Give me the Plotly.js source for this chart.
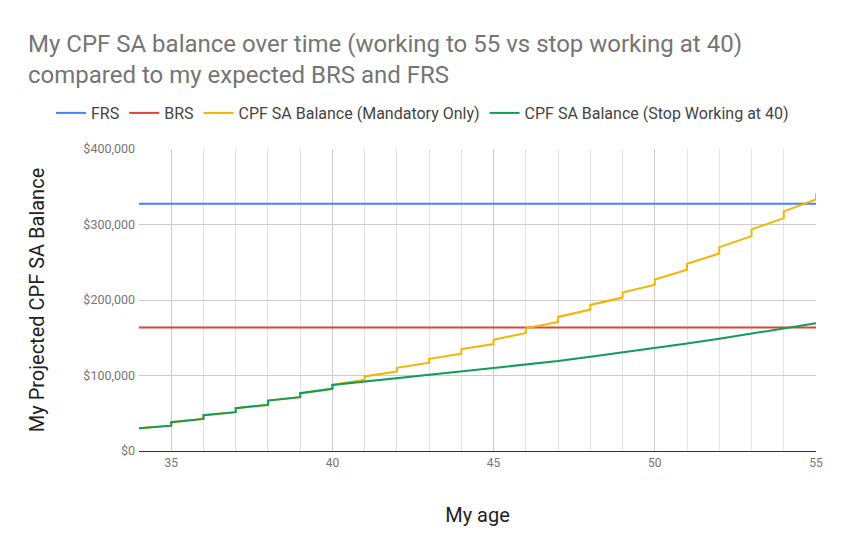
<!DOCTYPE html>
<html>
<head>
<meta charset="utf-8">
<script src="https://cdn.plot.ly/plotly-3.0.1.min.js"></script>
<style>
  html, body { margin: 0; padding: 0; background: #fff; }
  #chart { width: 844px; height: 554px; }
</style>
</head>
<body>
<div id="chart"></div>
<script>
// Values (in dollars, ages in years).
const frs_value = 327600;
const brs_value = 163700;

const start_age = 34;
const start_balance = 30100;

// Yearly interest gets credited at each birthday, so the balance steps up.
const step_ages = [35, 36, 37, 38, 39, 40, 41, 42, 43, 44, 45, 46, 47, 48, 49, 50, 51, 52, 53, 54, 55];
const mandatory_before = [33600, 42500, 51400, 61100, 71300, 82300, 94300, 105300, 116900, 128800,
    141700, 156300, 170900, 187300, 203200, 220100, 240000, 261600, 284600, 308500, 333300];
const mandatory_after = [38100, 47400, 56700, 66800, 76600, 87500, 98700, 110200, 122200, 135100,
    147400, 162400, 177600, 193500, 209800, 227100, 247900, 270000, 293500, 317400, 340900];

// After stopping work at 40 only interest grows the balance.
const stop_ages = [41, 42, 43, 44, 45, 46, 47, 48, 49, 50, 51, 52, 53, 54, 55];
const stop_balance = [92000, 96500, 100500, 104900, 109300, 114200, 119100, 124800, 130500,
    135900, 142500, 148700, 155400, 161600, 169100];

const x_ticks = [35, 40, 45, 50, 55];

const colors = {
    frs: '#4285F4',
    brs: '#DB4437',
    mandatory: '#F4B400',
    stop: '#0F9D58'
};

// Turn the before/after readings into a stepped line.
const stepped = function (ages, before, after, until) {
    let xs = [start_age];
    let ys = [start_balance];
    ages.forEach((a, i) => {
        if (until !== undefined && a > until) return;
        xs.push(a, a);
        ys.push(before[i], after[i]);
    });
    return { x: xs, y: ys };
}

const mandatory_line = stepped(step_ages, mandatory_before, mandatory_after);
let stop_line = stepped(step_ages, mandatory_before, mandatory_after, 40);
stop_line.x = stop_line.x.concat(stop_ages);
stop_line.y = stop_line.y.concat(stop_balance);

const traces = [
    {
        name: 'FRS',
        x: [start_age, 55],
        y: [frs_value, frs_value],
        mode: 'lines',
        line: { color: colors.frs, width: 2 }
    },
    {
        name: 'BRS',
        x: [start_age, 55],
        y: [brs_value, brs_value],
        mode: 'lines',
        line: { color: colors.brs, width: 2 }
    },
    {
        name: 'CPF SA Balance (Mandatory Only)',
        x: mandatory_line.x,
        y: mandatory_line.y,
        mode: 'lines',
        line: { color: colors.mandatory, width: 2 }
    },
    {
        name: 'CPF SA Balance (Stop Working at 40)',
        x: stop_line.x,
        y: stop_line.y,
        mode: 'lines',
        line: { color: colors.stop, width: 2 }
    }
];

// legend sits left of / above the plot area so plotly lets it span the full row
const legend_left_px = 51;

const layout = {
    width: 844,
    height: 554,
    margin: { l: 139, r: 28, t: 149, b: 103 },
    paper_bgcolor: '#fff',
    plot_bgcolor: '#fff',
    font: { family: 'Roboto, Arial, sans-serif', color: '#757575' },
    title: {
        text: 'My CPF SA balance over time (working to 55 vs stop working at 40)<br>compared to my expected BRS and FRS',
        font: { size: 24, color: '#757575' },
        xref: 'container',
        yref: 'container',
        x: 28 / 844,
        xanchor: 'left',
        y: 1 - 52 / 554,
        yanchor: 'top'
    },
    showlegend: true,
    legend: {
        orientation: 'h',
        xref: 'paper',
        yref: 'paper',
        x: (legend_left_px - 139) / 677,
        xanchor: 'left',
        y: 1 + (451 - 113) / 302 - 1,
        yanchor: 'middle',
        font: { size: 16, color: '#444' },
        itemwidth: 30,
        traceorder: 'normal'
    },
    xaxis: {
        range: [34, 55],
        tickvals: x_ticks,
        ticks: '',
        ticklabelstandoff: 3,
        showline: false,
        zeroline: false,
        showgrid: true,
        gridcolor: '#cccccc',
        gridwidth: 1,
        minor: { dtick: 1, tick0: 0, showgrid: true, gridcolor: '#e4e4e4', gridwidth: 1 },
        tickfont: { size: 12, color: '#757575' },
        title: { text: 'My age', font: { size: 20, color: '#222' }, standoff: 38 }
    },
    yaxis: {
        range: [0, 400000],
        dtick: 100000,
        tickprefix: '$',
        tickformat: ',d',
        ticks: '',
        ticklabelstandoff: 3,
        showline: false,
        showgrid: true,
        gridcolor: '#cccccc',
        zeroline: true,
        zerolinecolor: '#333',
        zerolinewidth: 1,
        tickfont: { size: 12.5, color: '#757575' },
        title: { text: 'My Projected CPF SA Balance', font: { size: 20, color: '#222' }, standoff: 33 }
    }
};

const config = { responsive: false, displayModeBar: false, staticPlot: true };

Plotly.newPlot('chart', traces, layout, config);
</script>
</body>
</html>
